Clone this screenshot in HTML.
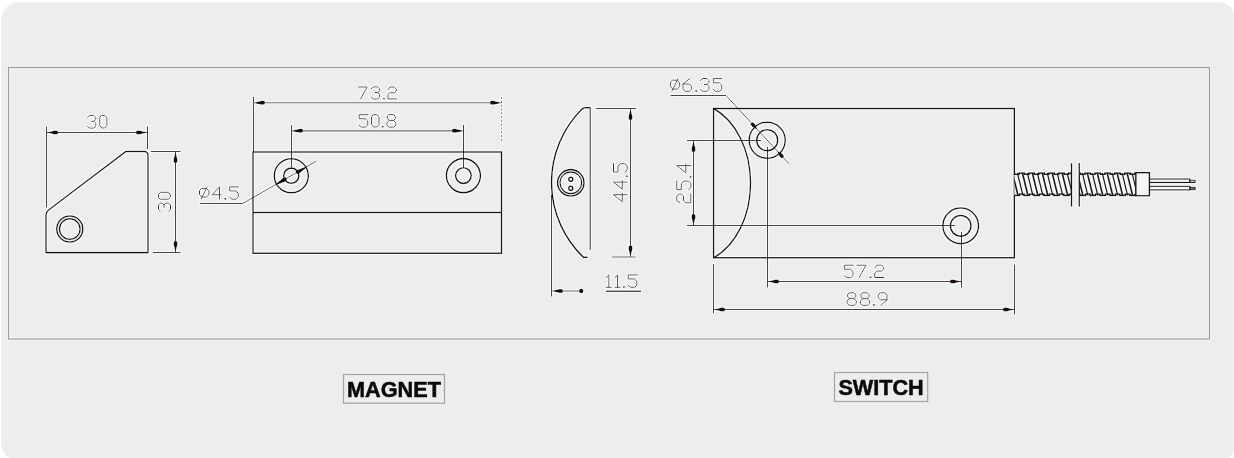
<!DOCTYPE html><html><head><meta charset="utf-8"><style>html,body{margin:0;padding:0;background:#fff;width:1234px;height:458px;overflow:hidden}svg{display:block;will-change:transform}.lbl{font-family:"Liberation Sans",sans-serif;font-weight:bold;fill:#0a0a0a}</style></head><body>
<svg width="1234" height="458" viewBox="0 0 1234 458">
<path d="M19.1,2.2 H1218.6 A15,12 0 0 1 1233.8,14.2 V448 A13,13 0 0 1 1220.8,461 H19.1 A18,18 0 0 1 1.1,443 V20.2 A18,18 0 0 1 19.1,2.2 Z" fill="#eceeed"/>
<defs><filter id="halo" x="-5%" y="-5%" width="110%" height="110%"><feMorphology operator="dilate" radius="1" in="SourceAlpha" result="d"/><feFlood flood-color="#f9f9f9"/><feComposite in2="d" operator="in" result="w"/><feMerge><feMergeNode in="w"/><feMergeNode in="SourceGraphic"/></feMerge></filter></defs><g filter="url(#halo)">
<rect x="8.5" y="67.5" width="1201" height="271.5" fill="none" stroke="#9c9c9c" stroke-width="1.3"/>
<line x1="46.5" y1="126.2" x2="46.5" y2="207.5" stroke="#4a4340" stroke-width="1.0"/>
<line x1="147.5" y1="126.2" x2="147.5" y2="149" stroke="#4a4340" stroke-width="1.0"/>
<line x1="46.5" y1="132.5" x2="147.5" y2="132.5" stroke="#4a4340" stroke-width="1.0"/>
<line x1="151" y1="151.5" x2="180.7" y2="151.5" stroke="#4a4340" stroke-width="1.0"/>
<line x1="153" y1="252.5" x2="180.7" y2="252.5" stroke="#4a4340" stroke-width="1.0"/>
<line x1="175.5" y1="151.5" x2="175.5" y2="252.5" stroke="#4a4340" stroke-width="1.0"/>
<path transform="translate(46.50,132.50) rotate(180)" d="M-2.5,-0.6 L-2.5,0.6 L-8.3,2.0 L-11.3,1.7 L-11.3,-1.7 L-8.3,-2.0 Z" fill="#141010"/>
<path transform="translate(147.50,132.50) rotate(0)" d="M-2.5,-0.6 L-2.5,0.6 L-8.3,2.0 L-11.3,1.7 L-11.3,-1.7 L-8.3,-2.0 Z" fill="#141010"/>
<path transform="translate(175.50,151.50) rotate(-90)" d="M-2.5,-0.6 L-2.5,0.6 L-8.3,2.0 L-11.3,1.7 L-11.3,-1.7 L-8.3,-2.0 Z" fill="#141010"/>
<path transform="translate(175.50,252.50) rotate(90)" d="M-2.5,-0.6 L-2.5,0.6 L-8.3,2.0 L-11.3,1.7 L-11.3,-1.7 L-8.3,-2.0 Z" fill="#141010"/>
<path d="M46,252.6 L46,215 Q46,212 48.6,210 L126,151.4 L144,151.4 Q148,151.4 148,155.4 L148,252.6 Z" fill="none" stroke="#161212" stroke-width="1.55" stroke-linejoin="round"/>
<circle cx="69.8" cy="229" r="13" fill="none" stroke="#161212" stroke-width="1.6"/>
<circle cx="69.8" cy="229" r="10.3" fill="none" stroke="#161212" stroke-width="1.5"/>
<g transform="translate(87.20,115.30) scale(0.9657,0.9846)" fill="none" stroke="#3a3431" stroke-width="1.0" vector-effect="non-scaling-stroke" stroke-linejoin="round" stroke-linecap="round"><path vector-effect="non-scaling-stroke" transform="translate(0.00,0)" d="M0.2,2.2 L2.3,0.1 H6.8 L8.8,2.1 V4.2 L6.9,6.1 H4.2 M6.9,6.1 L8.9,8.1 V11 L6.9,13 H2.3 L0.2,10.9"/><path vector-effect="non-scaling-stroke" transform="translate(13.00,0)" d="M2.2,0.1 H5.2 L7.4,2.5 V10.5 L5.2,12.9 H2.2 L0,10.5 V2.5 Z"/></g>
<g transform="translate(158.40,211.40) rotate(-90) scale(0.9363,0.9308)" fill="none" stroke="#3a3431" stroke-width="1.0" vector-effect="non-scaling-stroke" stroke-linejoin="round" stroke-linecap="round"><path vector-effect="non-scaling-stroke" transform="translate(0.00,0)" d="M0.2,2.2 L2.3,0.1 H6.8 L8.8,2.1 V4.2 L6.9,6.1 H4.2 M6.9,6.1 L8.9,8.1 V11 L6.9,13 H2.3 L0.2,10.9"/><path vector-effect="non-scaling-stroke" transform="translate(13.00,0)" d="M2.2,0.1 H5.2 L7.4,2.5 V10.5 L5.2,12.9 H2.2 L0,10.5 V2.5 Z"/></g>
<line x1="253.5" y1="97" x2="253.5" y2="152" stroke="#4a4340" stroke-width="1.0"/>
<line x1="501.5" y1="97" x2="501.5" y2="143" stroke="#8d8684" stroke-width="1" stroke-dasharray="2.2,1.6"/>
<line x1="253.5" y1="102.8" x2="501.5" y2="102.8" stroke="#4a4340" stroke-width="1.0"/>
<line x1="291.5" y1="125" x2="291.5" y2="167.5" stroke="#4a4340" stroke-width="1.0"/>
<line x1="463.5" y1="125" x2="463.5" y2="167.5" stroke="#4a4340" stroke-width="1.0"/>
<line x1="291.5" y1="130.8" x2="463.5" y2="130.8" stroke="#4a4340" stroke-width="1.2"/>
<polyline points="316.6,161 242.8,203.5 200,203.5" fill="none" stroke="#4a4340" stroke-width="1"/>
<path transform="translate(253.50,102.80) rotate(180)" d="M-2.5,-0.6 L-2.5,0.6 L-8.3,2.0 L-11.3,1.7 L-11.3,-1.7 L-8.3,-2.0 Z" fill="#141010"/>
<path transform="translate(501.50,102.80) rotate(0)" d="M-2.5,-0.6 L-2.5,0.6 L-8.3,2.0 L-11.3,1.7 L-11.3,-1.7 L-8.3,-2.0 Z" fill="#141010"/>
<path transform="translate(291.50,130.80) rotate(180)" d="M-2.5,-0.6 L-2.5,0.6 L-8.3,2.0 L-11.3,1.7 L-11.3,-1.7 L-8.3,-2.0 Z" fill="#141010"/>
<path transform="translate(463.50,130.80) rotate(0)" d="M-2.5,-0.6 L-2.5,0.6 L-8.3,2.0 L-11.3,1.7 L-11.3,-1.7 L-8.3,-2.0 Z" fill="#141010"/>
<path transform="translate(276.54,184.14) rotate(150.2383997716639)" d="M-0,-0.6 L-0,0.6 L-8.3,2.0 L-11.3,1.7 L-11.3,-1.7 L-8.3,-2.0 Z" fill="#141010"/>
<path transform="translate(306.06,167.26) rotate(330.2383997716639)" d="M-0,-0.6 L-0,0.6 L-8.3,2.0 L-11.3,1.7 L-11.3,-1.7 L-8.3,-2.0 Z" fill="#141010"/>
<g fill="none" stroke="#161212" stroke-width="1.55"><rect x="253" y="152" width="248.5" height="101.2"/><line x1="253" y1="212.5" x2="501.5" y2="212.5"/><circle cx="291.3" cy="175.7" r="17.0"/><circle cx="291.3" cy="175.7" r="7.6" stroke-width="1.6"/><circle cx="463.4" cy="175.6" r="17.0"/><circle cx="463.4" cy="175.6" r="7.8" stroke-width="1.6"/></g>
<g transform="translate(358.50,86.80) scale(0.9645,0.9385)" fill="none" stroke="#3a3431" stroke-width="1.0" vector-effect="non-scaling-stroke" stroke-linejoin="round" stroke-linecap="round"><path vector-effect="non-scaling-stroke" transform="translate(0.00,0)" d="M0,0.2 H9 L2.2,13"/><path vector-effect="non-scaling-stroke" transform="translate(13.00,0)" d="M0.2,2.2 L2.3,0.1 H6.8 L8.8,2.1 V4.2 L6.9,6.1 H4.2 M6.9,6.1 L8.9,8.1 V11 L6.9,13 H2.3 L0.2,10.9"/><path vector-effect="non-scaling-stroke" transform="translate(26.00,0)" d="M0.1,12.3 h1 v0.7 h-1 Z"/><path vector-effect="non-scaling-stroke" transform="translate(30.40,0)" d="M0.3,3 L2.3,0.2 H6.6 L8.8,2.4 V4.4 L6.9,6.3 H2.1 L0.1,8.3 V12.9 H9"/></g>
<g transform="translate(358.90,114.50) scale(1.0054,0.9692)" fill="none" stroke="#3a3431" stroke-width="1.0" vector-effect="non-scaling-stroke" stroke-linejoin="round" stroke-linecap="round"><path vector-effect="non-scaling-stroke" transform="translate(0.00,0)" d="M9,0.2 H0.3 V4.4 H6.4 L8.8,6.7 V10.8 L6.6,13 H2.5 L0.1,10.8"/><path vector-effect="non-scaling-stroke" transform="translate(12.60,0)" d="M2.2,0.1 H5.2 L7.4,2.5 V10.5 L5.2,12.9 H2.2 L0,10.5 V2.5 Z"/><path vector-effect="non-scaling-stroke" transform="translate(23.20,0)" d="M0.1,12.3 h1 v0.7 h-1 Z"/><path vector-effect="non-scaling-stroke" transform="translate(27.60,0)" d="M2.6,0.1 H6.8 L8.7,2 V4.2 L6.8,6.1 H2.6 L0.7,4.2 V2 Z M2.6,6.1 L0.2,8.4 V11 L2.3,13 H7.1 L9.2,11 V8.4 L6.8,6.1"/></g>
<g transform="translate(199.20,186.70) scale(1.0026,0.9615)" fill="none" stroke="#3a3431" stroke-width="1.0" vector-effect="non-scaling-stroke" stroke-linejoin="round" stroke-linecap="round"><path vector-effect="non-scaling-stroke" transform="translate(0.00,0)" d="M2.8,1.8 H7.2 L9.7,4.2 V8.3 L7.2,10.8 H2.8 L0.3,8.3 V4.2 Z M1.9,12.8 L7.9,0.4"/><path vector-effect="non-scaling-stroke" transform="translate(12.90,0)" d="M7.3,13 V0.1 L0.1,8.4 H8.8"/><path vector-effect="non-scaling-stroke" transform="translate(25.70,0)" d="M0.1,12.3 h1 v0.7 h-1 Z"/><path vector-effect="non-scaling-stroke" transform="translate(30.10,0)" d="M9,0.2 H0.3 V4.4 H6.4 L8.8,6.7 V10.8 L6.6,13 H2.5 L0.1,10.8"/></g>
<line x1="596" y1="108.5" x2="636" y2="108.5" stroke="#4a4340" stroke-width="1.0"/>
<line x1="612" y1="257" x2="635.6" y2="257" stroke="#4a4340" stroke-width="1.0"/>
<line x1="630.5" y1="108.5" x2="630.5" y2="257" stroke="#4a4340" stroke-width="1.0"/>
<line x1="551.5" y1="195" x2="551.5" y2="296.6" stroke="#4a4340" stroke-width="1.0"/>
<line x1="551.5" y1="291" x2="581.3" y2="291" stroke="#4a4340" stroke-width="1.0"/>
<line x1="606" y1="291.3" x2="641" y2="291.3" stroke="#4a4340" stroke-width="1.5"/>
<path transform="translate(630.50,108.50) rotate(-90)" d="M-2.5,-0.6 L-2.5,0.6 L-8.3,2.0 L-11.3,1.7 L-11.3,-1.7 L-8.3,-2.0 Z" fill="#141010"/>
<path transform="translate(630.50,257.00) rotate(90)" d="M-2.5,-0.6 L-2.5,0.6 L-8.3,2.0 L-11.3,1.7 L-11.3,-1.7 L-8.3,-2.0 Z" fill="#141010"/>
<path transform="translate(551.50,291.00) rotate(180)" d="M-2.5,-0.6 L-2.5,0.6 L-8.3,2.0 L-11.3,1.7 L-11.3,-1.7 L-8.3,-2.0 Z" fill="#141010"/>
<circle cx="581.2" cy="291" r="2.3" fill="#141010"/>
<g fill="none" stroke="#161212" stroke-width="1.6"><path d="M590.2,250 L590.2,107.7" stroke="#3a3331" stroke-width="1.3"/><path d="M590.2,107.7 L585,107.7 Q583,107.7 581.5,109.5 A103.8,103.8 0 0 0 583.3,257.2 L587.8,257.2"/><circle cx="570.8" cy="182.8" r="13.2"/><circle cx="570.8" cy="182.8" r="10.8" stroke-width="1.3"/><circle cx="570.8" cy="179.2" r="2" stroke-width="1.6"/><circle cx="570.8" cy="188.3" r="2" stroke-width="1.6"/></g>
<g transform="translate(613.30,201.90) rotate(-90) scale(0.9846,1.0692)" fill="none" stroke="#3a3431" stroke-width="1.0" vector-effect="non-scaling-stroke" stroke-linejoin="round" stroke-linecap="round"><path vector-effect="non-scaling-stroke" transform="translate(0.00,0)" d="M7.3,13 V0.1 L0.1,8.4 H8.8"/><path vector-effect="non-scaling-stroke" transform="translate(12.80,0)" d="M7.3,13 V0.1 L0.1,8.4 H8.8"/><path vector-effect="non-scaling-stroke" transform="translate(25.60,0)" d="M0.1,12.3 h1 v0.7 h-1 Z"/><path vector-effect="non-scaling-stroke" transform="translate(30.00,0)" d="M9,0.2 H0.3 V4.4 H6.4 L8.8,6.7 V10.8 L6.6,13 H2.5 L0.1,10.8"/></g>
<g transform="translate(606.00,274.70) scale(1.0163,0.9692)" fill="none" stroke="#3a3431" stroke-width="1.0" vector-effect="non-scaling-stroke" stroke-linejoin="round" stroke-linecap="round"><path vector-effect="non-scaling-stroke" transform="translate(0.00,0)" d="M0.3,3 L2.8,0.2 V13 M0.2,13 H5.4"/><path vector-effect="non-scaling-stroke" transform="translate(8.60,0)" d="M0.3,3 L2.8,0.2 V13 M0.2,13 H5.4"/><path vector-effect="non-scaling-stroke" transform="translate(17.20,0)" d="M0.1,12.3 h1 v0.7 h-1 Z"/><path vector-effect="non-scaling-stroke" transform="translate(21.60,0)" d="M9,0.2 H0.3 V4.4 H6.4 L8.8,6.7 V10.8 L6.6,13 H2.5 L0.1,10.8"/></g>
<polyline points="670.4,95.5 726,95.5 789,163.8" fill="none" stroke="#4a4340" stroke-width="1"/>
<line x1="686.8" y1="140.5" x2="761" y2="140.5" stroke="#4a4340" stroke-width="1.0"/>
<line x1="686.8" y1="225.5" x2="955" y2="225.5" stroke="#4a4340" stroke-width="1.0"/>
<line x1="693.5" y1="140.5" x2="693.5" y2="225.5" stroke="#4a4340" stroke-width="1.0"/>
<line x1="767.5" y1="147" x2="767.5" y2="287.5" stroke="#4a4340" stroke-width="1.0"/>
<line x1="961.5" y1="232" x2="961.5" y2="287.8" stroke="#4a4340" stroke-width="1.0"/>
<line x1="767.5" y1="281.5" x2="961.5" y2="281.5" stroke="#4a4340" stroke-width="1.0"/>
<line x1="713.5" y1="264" x2="713.5" y2="313.5" stroke="#4a4340" stroke-width="1.0"/>
<line x1="1014.5" y1="264.5" x2="1014.5" y2="314.7" stroke="#4a4340" stroke-width="1.0"/>
<line x1="713.5" y1="309.5" x2="1014.5" y2="309.5" stroke="#4a4340" stroke-width="1.0"/>
<path transform="translate(693.50,140.50) rotate(-90)" d="M-2.5,-0.6 L-2.5,0.6 L-8.3,2.0 L-11.3,1.7 L-11.3,-1.7 L-8.3,-2.0 Z" fill="#141010"/>
<path transform="translate(693.50,225.50) rotate(90)" d="M-2.5,-0.6 L-2.5,0.6 L-8.3,2.0 L-11.3,1.7 L-11.3,-1.7 L-8.3,-2.0 Z" fill="#141010"/>
<path transform="translate(767.50,281.50) rotate(180)" d="M-2.5,-0.6 L-2.5,0.6 L-8.3,2.0 L-11.3,1.7 L-11.3,-1.7 L-8.3,-2.0 Z" fill="#141010"/>
<path transform="translate(961.50,281.50) rotate(0)" d="M-2.5,-0.6 L-2.5,0.6 L-8.3,2.0 L-11.3,1.7 L-11.3,-1.7 L-8.3,-2.0 Z" fill="#141010"/>
<path transform="translate(713.50,309.50) rotate(180)" d="M-2.5,-0.6 L-2.5,0.6 L-8.3,2.0 L-11.3,1.7 L-11.3,-1.7 L-8.3,-2.0 Z" fill="#141010"/>
<path transform="translate(1014.50,309.50) rotate(0)" d="M-2.5,-0.6 L-2.5,0.6 L-8.3,2.0 L-11.3,1.7 L-11.3,-1.7 L-8.3,-2.0 Z" fill="#141010"/>
<path transform="translate(756.48,128.59) rotate(47.26968135264772)" d="M-0,-0.6 L-0,0.6 L-4.5,1.9 L-7.5,1.5999999999999999 L-7.5,-1.5999999999999999 L-4.5,-1.9 Z" fill="#141010"/>
<path transform="translate(777.92,151.81) rotate(227.26968135264772)" d="M-0,-0.6 L-0,0.6 L-4.5,1.9 L-7.5,1.5999999999999999 L-7.5,-1.5999999999999999 L-4.5,-1.9 Z" fill="#141010"/>
<g fill="none" stroke="#161212" stroke-width="1.55"><rect x="713.6" y="108.5" width="300.7" height="149.3"/><path d="M713.6,108.5 A59,80.5 0 0 1 713.6,257.8"/><circle cx="767.2" cy="140.2" r="18"/><circle cx="767.2" cy="140.2" r="10.5"/><circle cx="960.7" cy="225.8" r="17.8"/><circle cx="960.7" cy="225.8" r="10.3"/></g>
<g transform="translate(670.10,78.40) scale(0.9867,0.9923)" fill="none" stroke="#3a3431" stroke-width="1.0" vector-effect="non-scaling-stroke" stroke-linejoin="round" stroke-linecap="round"><path vector-effect="non-scaling-stroke" transform="translate(0.00,0)" d="M2.8,1.8 H7.2 L9.7,4.2 V8.3 L7.2,10.8 H2.8 L0.3,8.3 V4.2 Z M1.9,12.8 L7.9,0.4"/><path vector-effect="non-scaling-stroke" transform="translate(12.90,0)" d="M7.2,0.1 L0.2,5.5 V10.8 L2.4,13 H6.6 L8.9,10.8 V8 L6.8,5.7 H0.2"/><path vector-effect="non-scaling-stroke" transform="translate(26.10,0)" d="M0.1,12.3 h1 v0.7 h-1 Z"/><path vector-effect="non-scaling-stroke" transform="translate(30.50,0)" d="M0.2,2.2 L2.3,0.1 H6.8 L8.8,2.1 V4.2 L6.9,6.1 H4.2 M6.9,6.1 L8.9,8.1 V11 L6.9,13 H2.3 L0.2,10.9"/><path vector-effect="non-scaling-stroke" transform="translate(43.50,0)" d="M9,0.2 H0.3 V4.4 H6.4 L8.8,6.7 V10.8 L6.6,13 H2.5 L0.1,10.8"/></g>
<g transform="translate(676.50,202.90) rotate(-90) scale(1.0000,1.1077)" fill="none" stroke="#3a3431" stroke-width="1.0" vector-effect="non-scaling-stroke" stroke-linejoin="round" stroke-linecap="round"><path vector-effect="non-scaling-stroke" transform="translate(0.00,0)" d="M0.3,3 L2.3,0.2 H6.6 L8.8,2.4 V4.4 L6.9,6.3 H2.1 L0.1,8.3 V12.9 H9"/><path vector-effect="non-scaling-stroke" transform="translate(13.00,0)" d="M9,0.2 H0.3 V4.4 H6.4 L8.8,6.7 V10.8 L6.6,13 H2.5 L0.1,10.8"/><path vector-effect="non-scaling-stroke" transform="translate(25.60,0)" d="M0.1,12.3 h1 v0.7 h-1 Z"/><path vector-effect="non-scaling-stroke" transform="translate(30.00,0)" d="M7.3,13 V0.1 L0.1,8.4 H8.8"/></g>
<g transform="translate(844.00,265.00) scale(1.0205,0.9692)" fill="none" stroke="#3a3431" stroke-width="1.0" vector-effect="non-scaling-stroke" stroke-linejoin="round" stroke-linecap="round"><path vector-effect="non-scaling-stroke" transform="translate(0.00,0)" d="M9,0.2 H0.3 V4.4 H6.4 L8.8,6.7 V10.8 L6.6,13 H2.5 L0.1,10.8"/><path vector-effect="non-scaling-stroke" transform="translate(12.60,0)" d="M0,0.2 H9 L2.2,13"/><path vector-effect="non-scaling-stroke" transform="translate(25.60,0)" d="M0.1,12.3 h1 v0.7 h-1 Z"/><path vector-effect="non-scaling-stroke" transform="translate(30.00,0)" d="M0.3,3 L2.3,0.2 H6.6 L8.8,2.4 V4.4 L6.9,6.3 H2.1 L0.1,8.3 V12.9 H9"/></g>
<g transform="translate(846.90,292.70) scale(1.0228,0.9692)" fill="none" stroke="#3a3431" stroke-width="1.0" vector-effect="non-scaling-stroke" stroke-linejoin="round" stroke-linecap="round"><path vector-effect="non-scaling-stroke" transform="translate(0.00,0)" d="M2.6,0.1 H6.8 L8.7,2 V4.2 L6.8,6.1 H2.6 L0.7,4.2 V2 Z M2.6,6.1 L0.2,8.4 V11 L2.3,13 H7.1 L9.2,11 V8.4 L6.8,6.1"/><path vector-effect="non-scaling-stroke" transform="translate(13.00,0)" d="M2.6,0.1 H6.8 L8.7,2 V4.2 L6.8,6.1 H2.6 L0.7,4.2 V2 Z M2.6,6.1 L0.2,8.4 V11 L2.3,13 H7.1 L9.2,11 V8.4 L6.8,6.1"/><path vector-effect="non-scaling-stroke" transform="translate(26.00,0)" d="M0.1,12.3 h1 v0.7 h-1 Z"/><path vector-effect="non-scaling-stroke" transform="translate(30.40,0)" d="M8.8,7.3 H2.3 L0.2,5.2 V2.2 L2.3,0.1 H6.7 L8.8,2.2 V7.6 L2.8,13"/></g>
<defs><clipPath id="c1"><rect x="1014.3" y="172.9" width="57.2" height="22.7"/></clipPath><clipPath id="c2"><rect x="1079.2" y="172.9" width="56.6" height="22.7"/></clipPath></defs>
<rect x="1014.3" y="172.9" width="57.2" height="22.7" fill="#f6f6f6"/>
<rect x="1079.2" y="172.9" width="56.6" height="22.7" fill="#f6f6f6"/>
<g clip-path="url(#c1)" stroke="#161212"><line x1="1002.30" y1="172" x2="1008.30" y2="196.5" stroke-width="1.5"/><line x1="1007.27" y1="172" x2="1013.27" y2="196.5" stroke-width="1.15"/><line x1="1012.24" y1="172" x2="1018.24" y2="196.5" stroke-width="1.5"/><line x1="1017.21" y1="172" x2="1023.21" y2="196.5" stroke-width="1.15"/><line x1="1022.18" y1="172" x2="1028.18" y2="196.5" stroke-width="1.5"/><line x1="1027.15" y1="172" x2="1033.15" y2="196.5" stroke-width="1.15"/><line x1="1032.12" y1="172" x2="1038.12" y2="196.5" stroke-width="1.5"/><line x1="1037.09" y1="172" x2="1043.09" y2="196.5" stroke-width="1.15"/><line x1="1042.06" y1="172" x2="1048.06" y2="196.5" stroke-width="1.5"/><line x1="1047.03" y1="172" x2="1053.03" y2="196.5" stroke-width="1.15"/><line x1="1052.00" y1="172" x2="1058.00" y2="196.5" stroke-width="1.5"/><line x1="1056.97" y1="172" x2="1062.97" y2="196.5" stroke-width="1.15"/><line x1="1061.94" y1="172" x2="1067.94" y2="196.5" stroke-width="1.5"/><line x1="1066.91" y1="172" x2="1072.91" y2="196.5" stroke-width="1.15"/><line x1="1071.88" y1="172" x2="1077.88" y2="196.5" stroke-width="1.5"/></g>
<g clip-path="url(#c2)" stroke="#161212"><line x1="1067.20" y1="172" x2="1073.20" y2="196.5" stroke-width="1.5"/><line x1="1072.17" y1="172" x2="1078.17" y2="196.5" stroke-width="1.15"/><line x1="1077.14" y1="172" x2="1083.14" y2="196.5" stroke-width="1.5"/><line x1="1082.11" y1="172" x2="1088.11" y2="196.5" stroke-width="1.15"/><line x1="1087.08" y1="172" x2="1093.08" y2="196.5" stroke-width="1.5"/><line x1="1092.05" y1="172" x2="1098.05" y2="196.5" stroke-width="1.15"/><line x1="1097.02" y1="172" x2="1103.02" y2="196.5" stroke-width="1.5"/><line x1="1101.99" y1="172" x2="1107.99" y2="196.5" stroke-width="1.15"/><line x1="1106.96" y1="172" x2="1112.96" y2="196.5" stroke-width="1.5"/><line x1="1111.93" y1="172" x2="1117.93" y2="196.5" stroke-width="1.15"/><line x1="1116.90" y1="172" x2="1122.90" y2="196.5" stroke-width="1.5"/><line x1="1121.87" y1="172" x2="1127.87" y2="196.5" stroke-width="1.15"/><line x1="1126.84" y1="172" x2="1132.84" y2="196.5" stroke-width="1.5"/><line x1="1131.81" y1="172" x2="1137.81" y2="196.5" stroke-width="1.15"/><line x1="1136.78" y1="172" x2="1142.78" y2="196.5" stroke-width="1.5"/></g>
<path d="M1014.30,173.00 V173.00 H1014.56 V174.40 H1019.00 V173.00 H1024.50 V174.40 H1028.94 V173.00 H1034.44 V174.40 H1038.88 V173.00 H1044.38 V174.40 H1048.82 V173.00 H1054.32 V174.40 H1058.76 V173.00 H1064.26 V174.40 H1068.70 V173.00 H1071.50" stroke="#161212" stroke-width="1.4" fill="none"/>
<path d="M1014.30,195.50 V195.50 H1019.56 V194.10 H1024.00 V195.50 H1029.50 V194.10 H1033.94 V195.50 H1039.44 V194.10 H1043.88 V195.50 H1049.38 V194.10 H1053.82 V195.50 H1059.32 V194.10 H1063.76 V195.50 H1069.26 V194.10 H1071.50" stroke="#161212" stroke-width="1.4" fill="none"/>
<path d="M1079.20,173.00 V173.00 H1080.56 V174.40 H1085.00 V173.00 H1090.50 V174.40 H1094.94 V173.00 H1100.44 V174.40 H1104.88 V173.00 H1110.38 V174.40 H1114.82 V173.00 H1120.32 V174.40 H1124.76 V173.00 H1130.26 V174.40 H1134.70 V173.00 H1135.80" stroke="#161212" stroke-width="1.4" fill="none"/>
<path d="M1079.20,194.10 V194.10 H1080.06 V195.50 H1085.56 V194.10 H1090.00 V195.50 H1095.50 V194.10 H1099.94 V195.50 H1105.44 V194.10 H1109.88 V195.50 H1115.38 V194.10 H1119.82 V195.50 H1125.32 V194.10 H1129.76 V195.50 H1135.26 V194.10 H1135.80" stroke="#161212" stroke-width="1.4" fill="none"/>
<g stroke="#161212" stroke-width="1.4"><rect x="1135.8" y="172.6" width="13.7" height="23.2" fill="#f5f5f5"/><rect x="1149.5" y="178.9" width="40.5" height="3.6" fill="#f7f7f7" stroke-width="1.15"/><rect x="1149.5" y="186.3" width="40.5" height="3.7" fill="#f7f7f7" stroke-width="1.15"/><rect x="1190" y="180.2" width="5.2" height="2.3" fill="#d8d8d8" stroke-width="1"/><rect x="1190" y="187.3" width="5.2" height="2.4" fill="#6a6462" stroke-width="1"/><line x1="1071.5" y1="163.1" x2="1071.5" y2="206.7" stroke-width="1.5"/><line x1="1079.2" y1="163.1" x2="1079.2" y2="206.7" stroke-width="1.5"/></g>
</g>
<rect x="343.5" y="374.5" width="101" height="28.7" fill="none" stroke="#a3a3a3" stroke-width="1.2"/>
<text class="lbl" x="347" y="396.8" font-size="22.9" stroke="#0a0a0a" stroke-width="0.55" textLength="94" lengthAdjust="spacingAndGlyphs">MAGNET</text>
<rect x="834.5" y="372.5" width="93.2" height="29" fill="none" stroke="#a3a3a3" stroke-width="1.2"/>
<text class="lbl" x="838.4" y="395.2" font-size="22.9" stroke="#0a0a0a" stroke-width="0.55" textLength="85.3" lengthAdjust="spacingAndGlyphs">SWITCH</text>
</svg></body></html>
